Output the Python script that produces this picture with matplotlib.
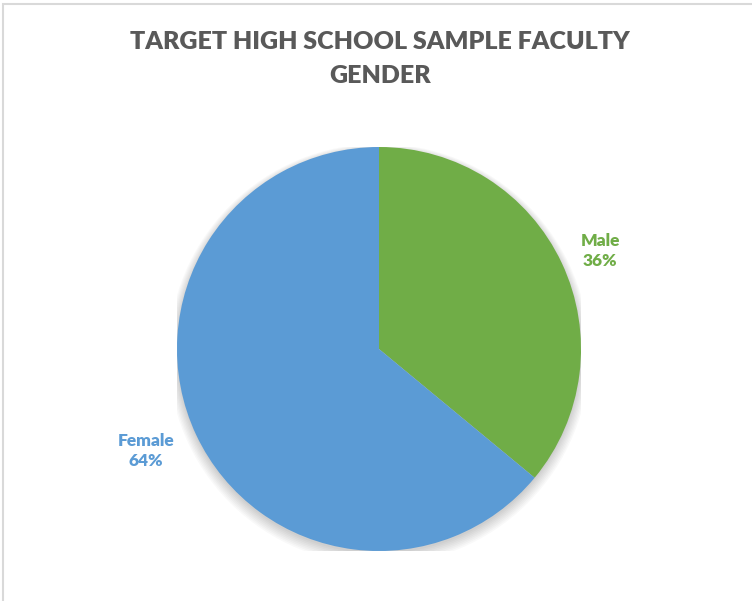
import matplotlib.pyplot as plt
from matplotlib.patches import Rectangle, Circle

# data
categories = ["Male", "Female"]
shares = [36, 64]
colors = ["#70AD47", "#5B9BD5"]
title = "TARGET HIGH SCHOOL SAMPLE FACULTY\nGENDER"

plt.rcParams['font.family'] = ['Lato', 'DejaVu Sans']

fig = plt.figure(figsize=(7.52, 6.01), dpi=100)
W, H = 752, 601

# light chart border
fig.patches.append(Rectangle((3 / W, -0.1), 1.2, (H - 4) / H + 0.1,
                             transform=fig.transFigure, fill=False,
                             edgecolor="#D9D9D9", linewidth=1.5))

fig.text(380 / W, 1 - 59 / H, title, ha="center", va="center",
         fontsize=18, fontweight="heavy", color="#595959", linespacing=1.7)

cx, cy, r = 379, 349, 202
ax = fig.add_axes([(cx - r) / W, (H - cy - r) / H, 2 * r / W, 2 * r / H])

# soft shadow
for k in range(8):
    ax.add_patch(Circle((0, -0.012 - k * 0.002), 1.0 + k * 0.006,
                        color="#000000", alpha=0.025, linewidth=0, zorder=0))

wedges, _ = ax.pie(shares, colors=colors, startangle=90, counterclock=False,
                   radius=1.0, wedgeprops=dict(linewidth=0))
ax.set_xlim(-1, 1)
ax.set_ylim(-1, 1)
ax.set_aspect("equal")
ax.axis("off")

# data labels
label_pos = [((600 - cx) / r, (cy - 251) / r), ((146 - cx) / r, (cy - 451) / r)]
for cat, val, col, (lx, ly) in zip(categories, shares, colors, label_pos):
    ax.text(lx, ly, f"{cat}\n{val}%", ha="center", va="center", fontsize=12.5,
            fontweight="heavy", color=col, linespacing=1.35, clip_on=False)

fig.savefig("out.png", dpi=100)
